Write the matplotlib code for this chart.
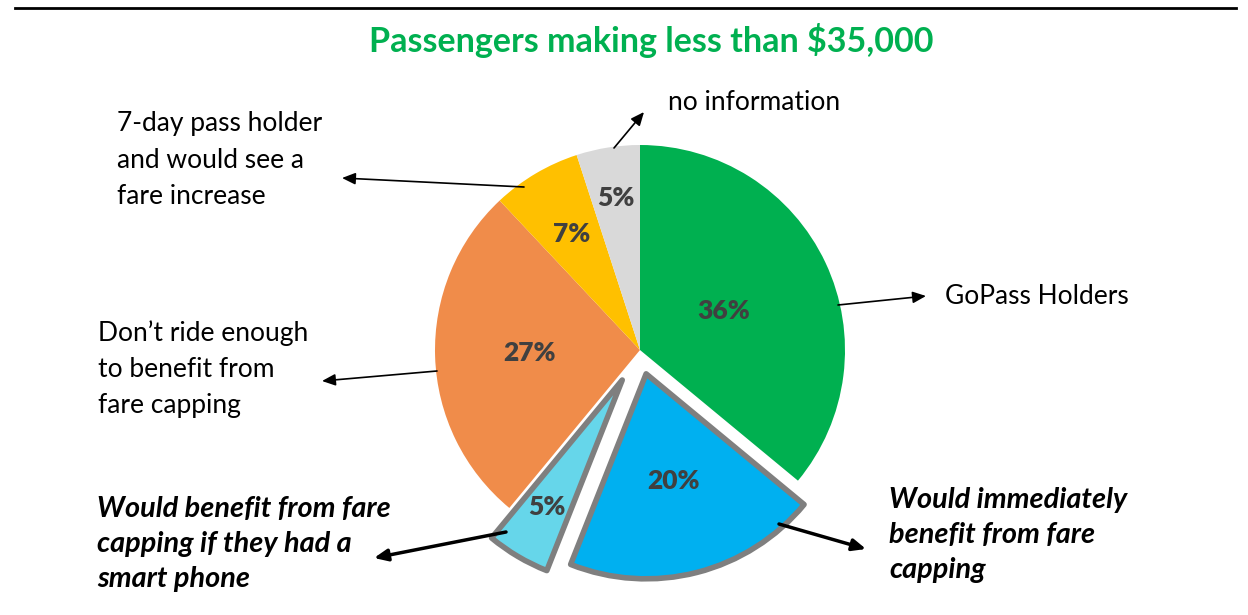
import numpy as np
import matplotlib.pyplot as plt
from matplotlib.lines import Line2D

plt.rcParams['font.family'] = ['Lato', 'DejaVu Sans']

# slice data, clockwise from 12 o'clock
labels = ["GoPass Holders",
          "Would immediately\nbenefit from fare\ncapping",
          "Would benefit from fare\ncapping if they had a\nsmart phone",
          "Don\u2019t ride enough\nto benefit from\nfare capping",
          "7-day pass holder\nand would see a\nfare increase",
          "no information"]
shares = [36, 20, 5, 27, 7, 5]
pct_text = ["36%", "20%", "5%", "27%", "7%", "5%"]
colors = ["#00B050", "#00B0F0", "#66D6EA", "#F08C4A", "#FFC000", "#D9D9D9"]
explode = [0, 0.12, 0.17, 0, 0, 0]
pct_dist = [0.45, 0.54, 0.72, 0.54, 0.66, 0.75]

W, H = 1248, 615
fig = plt.figure(figsize=(W / 100, H / 100), dpi=100)
ax = fig.add_axes([0, 0, 1, 1])

cx, cy, R = 640, H - 350, 205
# pie's explode offset is in data units, so scale it by the radius
wedges, _ = ax.pie(shares, colors=colors, explode=[e * R for e in explode],
                   startangle=90, counterclock=False, center=(cx, cy),
                   radius=R, frame=False, wedgeprops=dict(linewidth=0))
for i in (1, 2):
    wedges[i].set_edgecolor("#7F7F7F")
    wedges[i].set_linewidth(4)
    wedges[i].set_joinstyle("round")

# percentage labels
for w, t, d in zip(wedges, pct_text, pct_dist):
    mid = np.deg2rad((w.theta1 + w.theta2) / 2)
    x0, y0 = w.center
    ax.text(x0 + d * R * np.cos(mid), y0 + d * R * np.sin(mid), t,
            ha="center", va="center", fontsize=19, fontweight="heavy",
            color="#404040")

ax.set_xlim(0, W)
ax.set_ylim(0, H)
ax.set_aspect("equal")
ax.axis("off")

# outer labels with arrows (pixel positions, y from top)
def note(text, xy, xytext, tx, ty, bold=False, lw=1.2):
    ax.annotate("", xy=(xy[0], H - xy[1]), xytext=(xytext[0], H - xytext[1]),
                arrowprops=dict(arrowstyle="-|>,head_length=0.8,head_width=0.35",
                                color="black", lw=lw, shrinkA=0, shrinkB=0))
    ax.text(tx, H - ty, text, ha="left", va="center",
            fontsize=20.8 if bold else 19,
            fontweight="bold" if bold else "normal",
            fontstyle="italic" if bold else "normal",
            linespacing=1.42 if bold else 1.55, color="black")

note(labels[5], (644, 112), (614, 148), 668, 103)
note(labels[4], (342, 178), (524, 187), 117, 160)
note(labels[0], (926, 296), (838, 305), 945, 297)
note(labels[3], (322, 381), (437, 371), 98, 369)
note(labels[2], (374, 558), (506, 532), 97, 544, bold=True, lw=2.5)
note(labels[1], (866, 549), (779, 524), 889, 535, bold=True, lw=2.5)

ax.text(651, H - 41, "Passengers making less than $35,000", ha="center",
        va="center", fontsize=24.5, fontweight="bold", color="#00B050")

# rule across the top
fig.add_artist(Line2D([0.012, 0.99], [1 - 8 / H, 1 - 8 / H], color="black", lw=2))

fig.savefig("out.png", dpi=100)
